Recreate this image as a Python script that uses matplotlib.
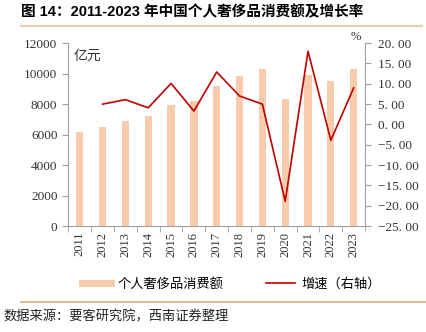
import matplotlib.pyplot as plt
import numpy as np
from matplotlib.lines import Line2D

plt.rcParams['font.family'] = ['Liberation Serif', 'Noto Sans CJK SC', 'DejaVu Sans']
cjk = ['Noto Sans CJK SC', 'DejaVu Sans']

years = [str(y) for y in range(2011, 2024)]
spend = [6200, 6500, 6900, 7200, 7950, 8200, 9200, 9830, 10300, 8330, 9920, 9530, 10300]
growth = [np.nan, 5.0, 6.1, 4.1, 10.1, 3.3, 12.9, 7.0, 5.0, -18.9, 18.0, -3.9, 9.0]

bar_color = '#F8CBAD'
line_color = '#C00000'
spine_color = '#A0A0A0'

fig = plt.figure(figsize=(4.27, 3.32), dpi=100)
ax = fig.add_axes([0.159, 0.319, 0.696, 0.551])
ax2 = ax.twinx()

x = np.arange(len(years))
ax.bar(x, spend, width=0.32, color=bar_color, zorder=1)
ax2.plot(x, growth, color=line_color, lw=1.2)

ax.set_xlim(-0.52, 12.48)
ax.set_ylim(0, 12000)
ax.set_yticks(range(0, 12001, 2000))
ax2.set_ylim(-25, 20)
ax2.set_yticks(range(-25, 21, 5))
ax2.set_yticklabels([f"{v:.2f}".replace('-', '\u2212').replace('.', '. ') for v in range(-25, 21, 5)])

ax.set_xticks(x)
ax.set_xticklabels(years, rotation=90)
ax.set_xticks(np.arange(-0.5, 12.6, 1), minor=True)
ax.tick_params(axis='x', which='major', length=0, pad=4)
ax.tick_params(axis='x', which='minor', length=4, color=spine_color, direction='out')

for a in (ax, ax2):
    a.spines['top'].set_visible(False)
    for s in ('left', 'right', 'bottom'):
        a.spines[s].set_color(spine_color)
    a.tick_params(axis='y', length=4, labelsize=9.5, colors=spine_color, labelcolor='#333333')
ax2.tick_params(axis='y', pad=5)
ax.tick_params(axis='x', labelsize=9, labelcolor='#333333')
ax.spines['right'].set_visible(False)
ax2.spines['left'].set_visible(False)
ax2.spines['bottom'].set_visible(False)

ax.text(0.02, 0.97, '亿元', transform=ax.transAxes, ha='left', va='top',
        fontsize=10, family=cjk, color='#333333')
ax2.text(0.985, 1.0, '%', transform=ax2.transAxes, ha='right', va='bottom',
         fontsize=9, color='#333333')

handles = [Line2D([], [], color=bar_color, lw=5),
           Line2D([], [], color=line_color, lw=1.2)]
fig.legend(handles, ['个人奢侈品消费额', '增速（右轴）'], loc='center left',
           bbox_to_anchor=(0.165, 0.145), ncol=2, frameon=False,
           prop={'family': cjk, 'size': 9.5}, handlelength=2.2,
           columnspacing=3.2, handletextpad=0.5)

fig.text(0.05, 0.965, '图 14：2011-2023 年中国个人奢侈品消费额及增长率',
         ha='left', va='center', fontsize=10.5, fontweight='bold',
         family=['Liberation Sans', 'Noto Sans CJK SC'])
fig.add_artist(Line2D([0.049, 0.988], [0.921, 0.921], color='#EBCDA6', lw=1.5))
fig.add_artist(Line2D([0.049, 1.0], [0.09, 0.09], color='#D6B27C', lw=1.2))
fig.text(0.008, 0.045, '数据来源：要客研究院，西南证券整理', ha='left', va='center',
         fontsize=9.5, style='italic', family=cjk, color='#222222')

fig.savefig('out.png', dpi=100)
